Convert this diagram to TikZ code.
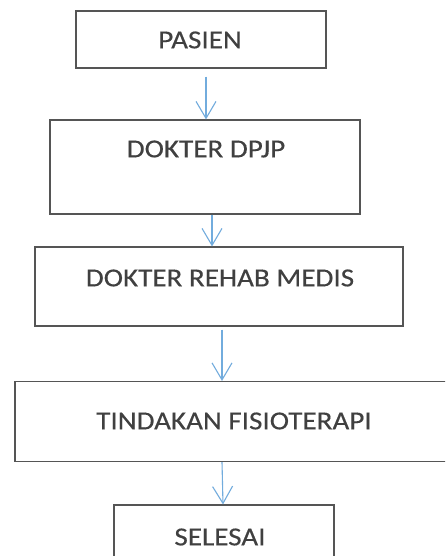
\documentclass[tikz,border=0pt]{standalone}
\usepackage{fontspec}
\setmainfont{Carlito}
\newfontfamily\labelfont{Carlito}[RawFeature={embolden=0.3}]
\usetikzlibrary{arrows.meta}
\definecolor{boxline}{HTML}{555555}
\definecolor{boxtext}{HTML}{404040}
\definecolor{flowblue}{HTML}{72ACDD}
\newcommand{\stepword}[1]{\scalebox{1.12}[1]{#1}}
\tikzset{
  stepbox/.style={draw=boxline, line width=1.1pt, rectangle, inner sep=0pt},
  steplabel/.style={text=boxtext, inner sep=0pt, font=\labelfont\fontsize{26}{31}\selectfont},
  flow/.style={draw=flowblue, line width=1.1pt, -{Straight Barb[length=17pt,width=20pt,line width=1.1pt]}}
}
\begin{document}
\begin{tikzpicture}[x=1pt, y=-1pt]
  \clip (0,0) rectangle (445,556);
  \fill[white] (0,0) rectangle (445,556);

  % boxes
  \node[stepbox, minimum width=250pt, minimum height=57pt] (pasien) at (201,39.5) {};
  \node[stepbox, minimum width=310pt, minimum height=94pt] (dpjp) at (205,167) {};
  \node[stepbox, minimum width=368pt, minimum height=79pt] (rehab) at (219,286.5) {};
  \node[stepbox, minimum width=440pt, minimum height=80pt] (fisio) at (235,421.5) {};
  \node[stepbox, minimum width=220pt, minimum height=80pt] (selesai) at (224,545) {};

  % labels
  \node[steplabel] (tpasien) at (200,40) {\stepword{PASIEN}};
  \node[steplabel] (tdpjp) at (206,149) {\stepword{DOKTER DPJP}};
  \node[steplabel] (trehab) at (220,278) {\stepword{DOKTER REHAB MEDIS}};
  \node[steplabel] (tfisio) at (234,421) {\stepword{TINDAKAN FISIOTERAPI}};
  \node[steplabel] (tselesai) at (220,537) {\stepword{SELESAI}};

  % connectors
  \draw[flow, shorten <=8pt] ([xshift=5pt]pasien.south) -- ([xshift=1pt]dpjp.north);
  \draw[flow] ([xshift=7pt]dpjp.south) -- ([xshift=-7pt]rehab.north);
  \draw[flow, shorten <=3pt] ([xshift=3pt]rehab.south) -- ([xshift=-13pt]fisio.north);
  \draw[flow] ([xshift=-13pt]fisio.south) -- ([xshift=-1pt]selesai.north);
\end{tikzpicture}
\end{document}
